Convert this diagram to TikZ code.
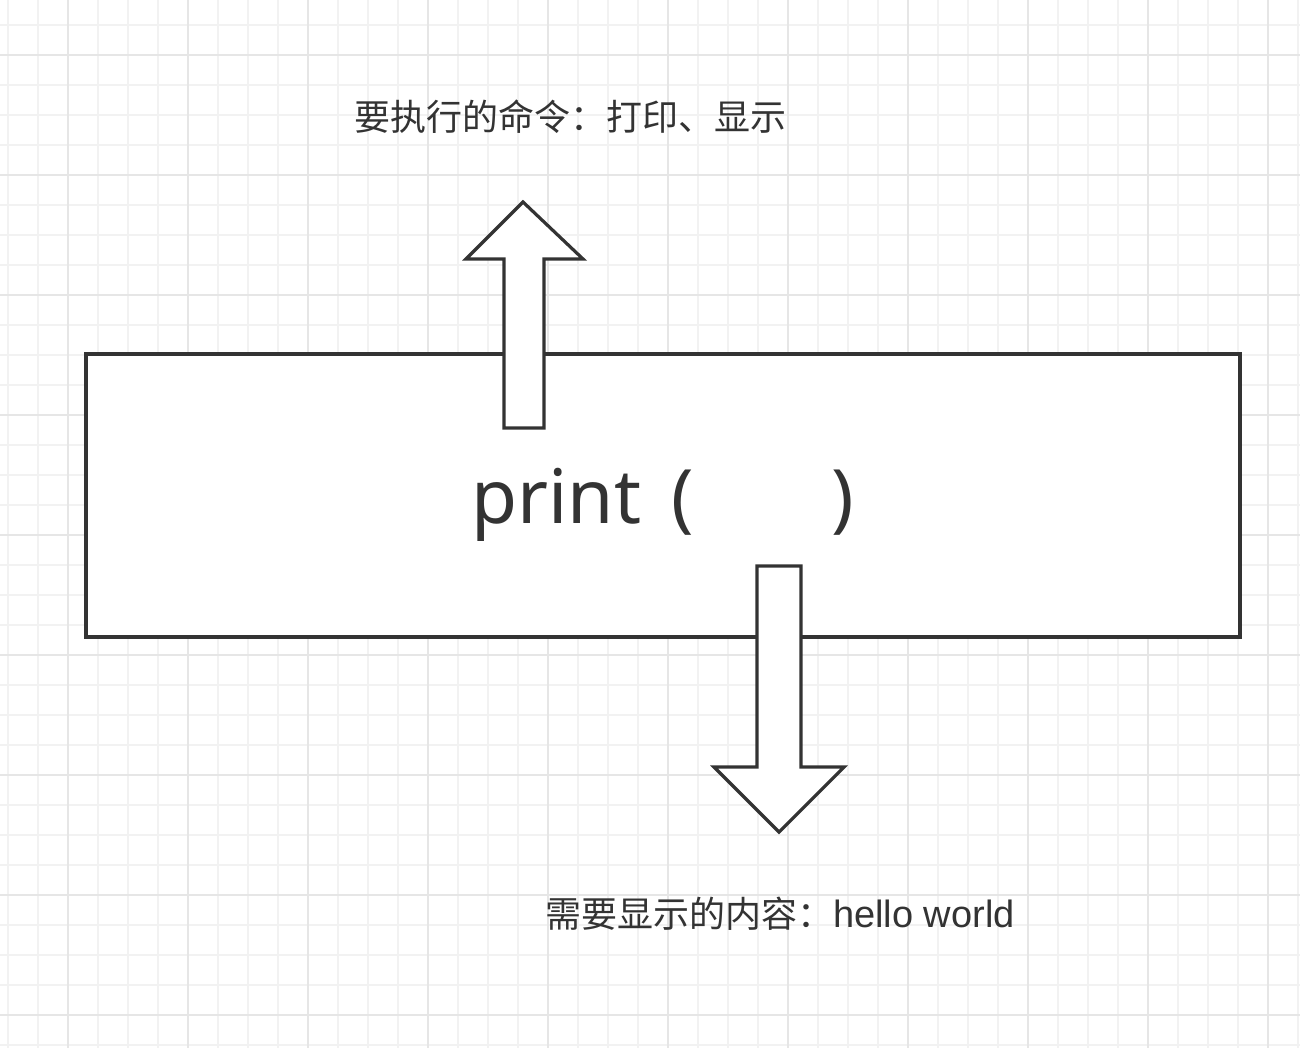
\documentclass[tikz,border=0pt]{standalone}
\usepackage{fontspec}
\setmainfont{Noto Sans CJK SC}
\newfontfamily\latinfont{Noto Sans}
\newfontfamily\helvfont{Liberation Sans}
\definecolor{ink}{HTML}{333333}
\definecolor{gridminor}{HTML}{F2F2F2}
\definecolor{gridmajor}{HTML}{E6E6E6}
\tikzset{
  minorline/.style={draw=gridminor, line width=1.2pt},
  majorline/.style={draw=gridmajor, line width=1.6pt},
  outline/.style={draw=ink, line width=3.2pt, fill=white},
  label/.style={text=ink, inner sep=0pt, font=\fontsize{36}{40}\selectfont},
}
\begin{document}
\begin{tikzpicture}[x=1pt,y=-1pt]
\useasboundingbox (0,0) rectangle (1300,1048);
\fill[white] (0,0) rectangle (1300,1048);
% grid
\foreach \i in {0,...,43} {
  \pgfmathsetmacro\xx{8+30*\i}
  \draw[minorline] (\xx,0) -- (\xx,1048);
}
\foreach \i in {0,...,34} {
  \pgfmathsetmacro\yy{25+30*\i}
  \draw[minorline] (0,\yy) -- (1300,\yy);
}
\foreach \i in {0,...,10} {
  \pgfmathsetmacro\xx{68+120*\i}
  \draw[majorline] (\xx,0) -- (\xx,1048);
}
\foreach \i in {0,...,8} {
  \pgfmathsetmacro\yy{55+120*\i}
  \draw[majorline] (0,\yy) -- (1300,\yy);
}
% main box
\node[outline, minimum width=1154pt, minimum height=283pt, inner sep=0pt] (box) at (663,495.5) {};
\node[text=ink, inner sep=0pt, anchor=base west, font=\latinfont\fontsize{75}{80}\selectfont] (code) at (471,523) {print\hspace{30pt}(\hspace{138pt})};
% up arrow
\draw[outline, line join=miter] (523,202) coordinate (uptip) -- (583,259) -- (544,259) -- (544,428) -- (504,428) -- (504,259) -- (466,259) -- cycle;
% down arrow
\draw[outline, line join=miter] (757,566) -- (801,566) -- (801,767) -- (844,767) -- (779,832) coordinate (downtip) -- (714,767) -- (757,767) -- cycle;
% labels
\node[label] (top) at (570,117) {要执行的命令：打印、显示};
\node[label, anchor=west] (bottom) at (545,914) {需要显示的内容：{\helvfont\fontsize{38}{40}\selectfont hello world}};
\end{tikzpicture}
\end{document}
